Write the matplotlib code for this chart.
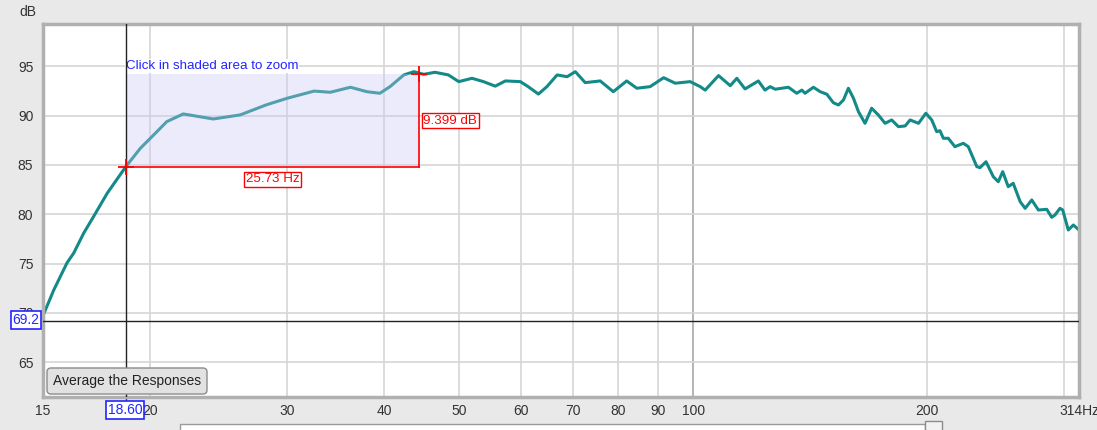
import matplotlib.pyplot as plt
from matplotlib.patches import Rectangle, FancyBboxPatch
from matplotlib.transforms import IdentityTransform

plt.rcParams['font.family'] = ['Liberation Sans', 'DejaVu Sans']

freq_hz = [14.55, 15.02, 15.62, 15.94, 16.42, 16.9, 17.6, 18.6, 19.42, 20.2,
           21.0, 22.05, 24.1, 26.1, 28.2, 30.0, 31.1, 32.5, 34.1, 36.2,
           38.0, 39.5, 40.7, 42.4, 43.7, 45.0, 46.5, 48.4, 49.9, 51.9,
           53.7, 55.6, 57.3, 59.9, 61.3, 63.2, 64.8, 66.8, 68.8, 70.5,
           72.6, 75.9, 78.9, 82.1, 84.6, 88.0, 91.6, 94.8, 99.1, 102.1,
           103.6, 107.8, 111.6, 113.8, 116.6, 121.3, 123.7, 125.6, 127.5, 132.6,
           135.9, 138.0, 139.3, 142.8, 145.7, 148.6, 151.5, 153.8, 156.1, 158.4,
           160.8, 163.2, 166.4, 169.7, 173.1, 176.6, 180.1, 183.7, 187.4, 190.2,
           195.0, 199.3, 202.8, 205.8, 207.8, 209.9, 213.0, 217.2, 222.7, 226.0,
           231.8, 234.0, 238.2, 243.4, 247.0, 250.3, 254.4, 258.2, 263.6, 267.5,
           272.8, 278.2, 285.2, 289.4, 292.2, 296.6, 299.0, 304.0, 308.6, 313.8]
spl_db = [69.7, 72.3, 75.05, 76.07, 78.1, 79.75, 82.13, 84.83, 86.7, 88.05,
          89.4, 90.18, 89.67, 90.08, 91.1, 91.77, 92.1, 92.5, 92.38, 92.89,
          92.44, 92.28, 92.95, 94.14, 94.47, 94.2, 94.41, 94.14, 93.46, 93.8,
          93.46, 93.0, 93.53, 93.46, 92.95, 92.2, 92.95, 94.14, 93.96, 94.47,
          93.36, 93.53, 92.44, 93.53, 92.79, 92.95, 93.86, 93.3, 93.46, 92.95,
          92.6, 94.07, 93.05, 93.8, 92.72, 93.53, 92.6, 92.95, 92.69, 92.89,
          92.28, 92.6, 92.28, 92.89, 92.44, 92.18, 91.32, 91.09, 91.6, 92.79,
          91.77, 90.41, 89.23, 90.76, 90.08, 89.23, 89.57, 88.89, 88.96, 89.57,
          89.23, 90.25, 89.57, 88.38, 88.48, 87.71, 87.71, 86.86, 87.2, 86.86,
          84.83, 84.73, 85.33, 83.81, 83.3, 84.32, 82.8, 83.14, 81.27, 80.6,
          81.45, 80.43, 80.5, 79.69, 79.92, 80.6, 80.43, 78.4, 78.91, 78.4]

x_ticks = [20, 30, 40, 50, 60, 70, 80, 90, 100, 200]
y_ticks = [65, 70, 75, 80, 85, 90, 95]

# cursor / measurement values
cursor_hz = 18.60
cursor_db = 69.2
start_db = 84.8
delta_hz = 25.73
delta_db = 9.399

W, H = 1097, 430
fig = plt.figure(figsize=(W / 100, H / 100), dpi=100, facecolor='#e9e9e9')
ax = fig.add_axes([43 / W, 1 - 397 / H, (1079 - 43) / W, (397 - 24) / H])
ax.set_facecolor('white')
ax.set_xscale('log')
x0, x1 = 14.55, 313.8
ax.set_xlim(x0, x1)
ax.set_ylim(61.45, 99.31)

# grid
for f in x_ticks + [300]:
    ax.axvline(f, color='#a8a8a8' if f == 100 else '#d6d6d6', lw=1.2, zorder=0)
for d in y_ticks:
    ax.axhline(d, color='#d6d6d6', lw=1.2, zorder=0)

ax.set_xticks([x0] + x_ticks + [x1])
ax.set_xticklabels(['15'] + [str(f) for f in x_ticks] + ['314Hz'])
ax.set_yticks(y_ticks)
ax.xaxis.set_minor_locator(plt.NullLocator())
ax.xaxis.set_minor_formatter(plt.NullFormatter())
ax.tick_params(length=0, labelsize=10, labelcolor='#333333')
ax.tick_params(axis='x', pad=5)
ax.tick_params(axis='y', pad=7)
for s in ax.spines.values():
    s.set_color('#b0b0b0')
    s.set_linewidth(2.5)

# response curve
ax.plot(freq_hz, spl_db, color='#148a88', lw=2.2, solid_joinstyle='round',
        solid_capstyle='round', zorder=2)

# shaded zoom area
end_hz = cursor_hz + delta_hz
ax.add_patch(Rectangle((cursor_hz, start_db), end_hz - cursor_hz, delta_db,
                       facecolor='#c8c8f5', alpha=0.35, edgecolor='none', zorder=3))
ax.text(cursor_hz, 95.05, 'Click in shaded area to zoom', color='#2424ff', fontsize=9.6,
        va='center', ha='left', zorder=4,
        bbox=dict(facecolor='white', edgecolor='none', pad=0.5))

# cursors
ax.axvline(cursor_hz, color='#222222', lw=1, zorder=4)
ax.axhline(cursor_db, color='#222222', lw=1, zorder=4)
ax.plot([cursor_hz, cursor_hz], [61.45, 60.9], color='#222222', lw=1, clip_on=False)

# red measurement
ax.plot([cursor_hz, end_hz], [start_db, start_db], color='red', lw=1.2, zorder=5)
ax.plot([end_hz, end_hz], [start_db, start_db + delta_db], color='red', lw=1.2, zorder=5)
ax.plot([cursor_hz, end_hz], [start_db, start_db + delta_db], '+', color='red',
        ms=11, mew=1.3, zorder=6)
ax.text((cursor_hz * end_hz) ** 0.5, start_db - 1.25, '%.2f Hz' % delta_hz, color='red',
        fontsize=9.6, ha='center', va='center', zorder=6,
        bbox=dict(facecolor='white', edgecolor='red', pad=1.2, lw=1))
ax.text(end_hz * 1.013, start_db + delta_db / 2, '%.3f dB' % delta_db, color='red',
        fontsize=9.6, ha='left', va='center', zorder=6,
        bbox=dict(facecolor='white', edgecolor='red', pad=1.2, lw=1))

# cursor value boxes (drawn over the axis labels, as in the app)
fig.text(26 / W, 1 - 320 / H, '%.1f' % cursor_db, color='#2424ff', fontsize=10,
         ha='center', va='center', zorder=10,
         bbox=dict(facecolor='white', edgecolor='#2424ff', pad=1.2, lw=1.2))
fig.text(125 / W, 1 - 410 / H, '%.2f' % cursor_hz, color='#2424ff', fontsize=10,
         ha='center', va='center', zorder=10,
         bbox=dict(facecolor='white', edgecolor='#2424ff', pad=1.2, lw=1.2))

fig.text(28 / W, 1 - 12 / H, 'dB', fontsize=10, color='#333333', ha='center', va='center')

# button
fig.patches.append(FancyBboxPatch((47, 430 - 394), 160, 26,
                                  boxstyle='round,pad=0,rounding_size=4',
                                  transform=IdentityTransform(), facecolor='#e2e2e2',
                                  edgecolor='#8c8c8c', lw=1, figure=fig, zorder=5))
fig.text(127 / W, 1 - 381 / H, 'Average the Responses', fontsize=10, color='#222222',
         ha='center', va='center', zorder=6)

# scrollbar stub at bottom
fig.patches.append(Rectangle((180, -2), 745, 8, transform=IdentityTransform(),
                             facecolor='white', edgecolor='#9a9a9a', lw=1, figure=fig))
fig.patches.append(Rectangle((925, -2), 17, 11, transform=IdentityTransform(),
                             facecolor='#f2f2f2', edgecolor='#8c8c8c', lw=1, figure=fig))

fig.savefig('out.png', dpi=100, facecolor=fig.get_facecolor())
